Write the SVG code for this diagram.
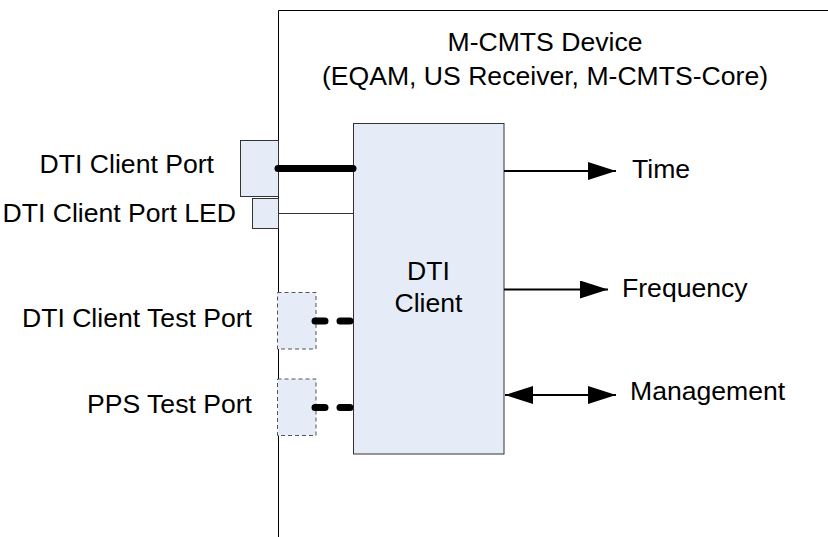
<svg xmlns="http://www.w3.org/2000/svg" width="828" height="537" viewBox="0 0 828 537">
<defs>
<marker id="ah" markerUnits="userSpaceOnUse" markerWidth="28" markerHeight="18" refX="28" refY="9" orient="auto-start-reverse" viewBox="0 0 28 18">
<path d="M0,0 L28,9 L0,18 z" fill="#000"/>
</marker>
</defs>
<style>
text{font-family:"Liberation Sans",Arial,sans-serif;font-size:26.6px;fill:#000}
.box{fill:#E6ECF7;stroke:#333;stroke-width:1}
.dbox{fill:#E6ECF7;stroke:#555;stroke-width:1;stroke-dasharray:4 3}
.arr{stroke:#000;stroke-width:2;fill:none}
</style>
<rect width="828" height="537" fill="#fff"/>
<g id="device">
<path d="M278.5,537 V10.5 H828" fill="none" stroke="#000" stroke-width="1"/>
<text x="545" y="51" text-anchor="middle">M-CMTS Device</text>
<text x="545" y="85" text-anchor="middle">(EQAM, US Receiver, M-CMTS-Core)</text>
</g>
<g id="dti-client">
<rect class="box" x="353.5" y="123.5" width="150.5" height="330.5" stroke-width="1.5"/>
<text x="428.5" y="280" text-anchor="middle">DTI</text>
<text x="428.5" y="312" text-anchor="middle">Client</text>
</g>
<g id="client-port">
<rect class="box" x="240.5" y="140.5" width="38" height="56"/>
<text x="214" y="173" text-anchor="end">DTI Client Port</text>
</g>
<g id="client-port-led">
<rect class="box" x="252.5" y="198.5" width="26" height="30"/>
<text x="236" y="222" text-anchor="end">DTI Client Port LED</text>
</g>
<g id="client-test-port">
<rect class="dbox" x="277.5" y="292.5" width="38.5" height="56.5"/>
<text x="252" y="327" text-anchor="end">DTI Client Test Port</text>
</g>
<g id="pps-test-port">
<rect class="dbox" x="277.5" y="379" width="38.5" height="56.5"/>
<text x="252" y="413" text-anchor="end">PPS Test Port</text>
</g>
<g id="labels">
<text x="632" y="178">Time</text>
<text x="622" y="297">Frequency</text>
<text x="630" y="400">Management</text>
</g>
<g id="connectors">
<line x1="278.5" y1="213.5" x2="353.5" y2="213.5" stroke="#333" stroke-width="1"/>
<line x1="278" y1="168.5" x2="353" y2="168.5" stroke="#000" stroke-width="7" stroke-linecap="round"/>
<line x1="315" y1="321" x2="350" y2="321" stroke="#000" stroke-width="7" stroke-linecap="round" stroke-dasharray="10 15"/>
<line x1="315" y1="407.5" x2="350" y2="407.5" stroke="#000" stroke-width="7" stroke-linecap="round" stroke-dasharray="10 15"/>
<line class="arr" x1="504" y1="171" x2="616" y2="171" marker-end="url(#ah)"/>
<line class="arr" x1="504" y1="289.5" x2="608" y2="289.5" marker-end="url(#ah)"/>
<line class="arr" x1="505" y1="395" x2="616" y2="395" marker-start="url(#ah)" marker-end="url(#ah)"/>
</g>
</svg>
